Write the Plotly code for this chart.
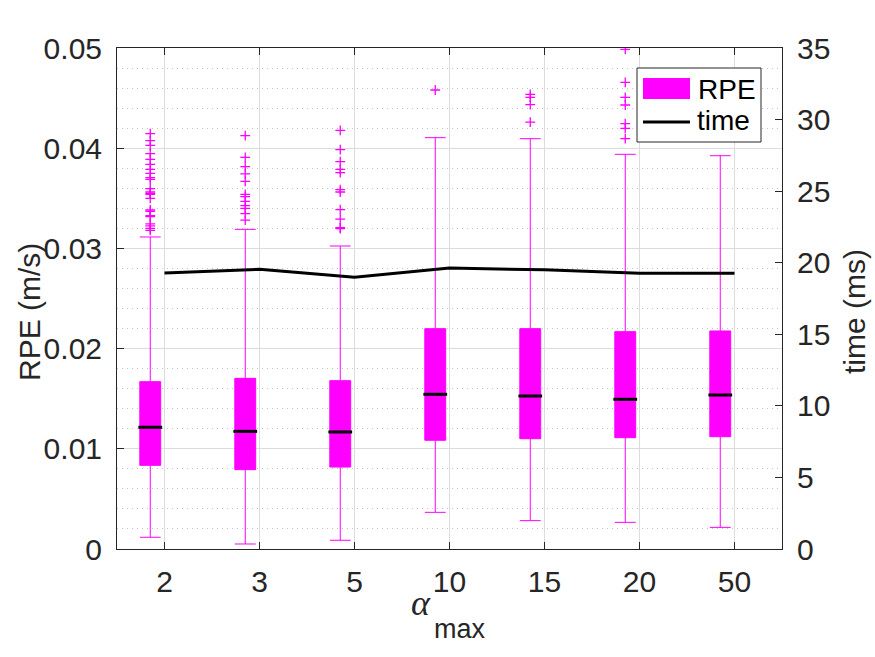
import plotly.graph_objects as go

# ---------------- data ----------------
categories = ["2", "3", "5", "10", "15", "20", "50"]
positions = [1, 2, 3, 4, 5, 6, 7]
box_offset = -0.15
box_width = 0.22

q1 = [0.00835, 0.00792, 0.00818, 0.01085, 0.01101, 0.01111, 0.01121]
median = [0.01215, 0.01174, 0.01168, 0.01544, 0.01527, 0.01494, 0.01537]
q3 = [0.01670, 0.01703, 0.01680, 0.02199, 0.02199, 0.02169, 0.02176]
lower_whisker = [0.00117, 0.00050, 0.00087, 0.00366, 0.00283, 0.00266, 0.00216]
upper_whisker = [0.03114, 0.03190, 0.03024, 0.04105, 0.04095, 0.03939, 0.03925]

outliers = [
    [0.04145, 0.04075, 0.04029, 0.03945, 0.03889, 0.03839, 0.03789, 0.03749,
     0.03706, 0.03689, 0.03596, 0.03563, 0.03550, 0.03540, 0.03500, 0.03383,
     0.03370, 0.03327, 0.03317, 0.03244, 0.03224, 0.03200, 0.03180],
    [0.04125, 0.03909, 0.03816, 0.03743, 0.03669, 0.03540, 0.03516, 0.03470,
     0.03426, 0.03400, 0.03347, 0.03283],
    [0.04178, 0.03985, 0.03866, 0.03789, 0.03756, 0.03586, 0.03563, 0.03386,
     0.03293, 0.03207, 0.03197],
    [0.04581],
    [0.04538, 0.04508, 0.04434, 0.04261],
    [0.04987, 0.04657, 0.04508, 0.04431, 0.04245, 0.04198, 0.04095],
    [],
]

time_ms = [19.28, 19.54, 18.98, 19.63, 19.50, 19.26, 19.26]

# ---------------- styling ----------------
MAG = "#FF00FF"
AX = "#262626"
FONT = "Liberation Sans, Arial, Helvetica, sans-serif"
FS = 30

box_x = [p + box_offset for p in positions]

fig = go.Figure()

fig.add_trace(go.Box(
    x=box_x, q1=q1, median=median, q3=q3,
    lowerfence=lower_whisker, upperfence=upper_whisker,
    width=box_width, whiskerwidth=1,
    fillcolor=MAG, line=dict(color=MAG, width=1),
    boxpoints=False, showlegend=False, name="RPE",
))

# black median lines
mx, my = [], []
half = box_width / 2 + 0.015
for bx, m in zip(box_x, median):
    mx += [bx - half, bx + half, None]
    my += [m, m, None]
fig.add_trace(go.Scatter(x=mx, y=my, mode="lines",
                         line=dict(color="black", width=3),
                         showlegend=False, hoverinfo="skip"))

# outliers
ox, oy = [], []
for bx, vals in zip(box_x, outliers):
    ox += [bx] * len(vals)
    oy += vals
fig.add_trace(go.Scatter(x=ox, y=oy, mode="markers",
                         marker=dict(symbol="cross-thin", size=7,
                                     line=dict(color=MAG, width=1.3)),
                         showlegend=False, hoverinfo="skip"))

# time line on right axis
fig.add_trace(go.Scatter(x=positions, y=time_ms, mode="lines",
                         line=dict(color="black", width=3),
                         yaxis="y2", showlegend=False, name="time"))

L, R, T, B = 117, 93, 48, 108
W, H = 875, 657
PW, PH = W - L - R, H - T - B


def px(x):
    return (x - L) / PW


def py(y):
    return (H - B - y) / PH


shapes = [
    # legend box
    dict(type="rect", xref="paper", yref="paper",
         x0=px(637), x1=px(761), y0=py(142), y1=py(68),
         fillcolor="white", line=dict(color=AX, width=1), layer="above"),
    dict(type="rect", xref="paper", yref="paper",
         x0=px(643), x1=px(690), y0=py(99), y1=py(78),
         fillcolor=MAG, line=dict(width=0), layer="above"),
    dict(type="line", xref="paper", yref="paper",
         x0=px(643), x1=px(690), y0=py(122), y1=py(122),
         line=dict(color="black", width=3), layer="above"),
]

annotations = [
    dict(text="RPE", xref="paper", yref="paper", x=px(696), y=py(89),
         xanchor="left", yanchor="middle", showarrow=False,
         font=dict(family=FONT, size=28, color="black")),
    dict(text="time", xref="paper", yref="paper", x=px(695), y=py(120),
         xanchor="left", yanchor="middle", showarrow=False,
         font=dict(family=FONT, size=28, color="black")),
    # axis titles
    dict(text="RPE (m/s)", xref="paper", yref="paper", x=px(30), y=py(312),
         xanchor="center", yanchor="middle", textangle=-90, showarrow=False,
         font=dict(family=FONT, size=30, color=AX)),
    dict(text="time (ms)", xref="paper", yref="paper", x=px(855), y=py(312),
         xanchor="center", yanchor="middle", textangle=-90, showarrow=False,
         font=dict(family=FONT, size=30, color=AX)),
    # x-axis title: alpha_max
    dict(text="<i>α</i>", xref="paper", yref="paper", x=px(421), y=py(603),
         xanchor="center", yanchor="middle", showarrow=False,
         font=dict(family="Liberation Serif, Times New Roman, serif", size=36, color=AX)),
    dict(text="max", xref="paper", yref="paper", x=px(432), y=py(629),
         xanchor="left", yanchor="middle", showarrow=False,
         font=dict(family=FONT, size=27, color=AX)),
]

fig.update_layout(
    width=W, height=H,
    margin=dict(l=L, r=R, t=T, b=B, autoexpand=False),
    paper_bgcolor="white", plot_bgcolor="white",
    font=dict(family=FONT, size=FS, color=AX),
    shapes=shapes, annotations=annotations,
    showlegend=False,
    xaxis=dict(
        range=[0.5, 7.5], tickmode="array", tickvals=positions, ticktext=categories,
        showgrid=True, gridcolor="#dcdcdc", gridwidth=1, zeroline=False,
        showline=True, linecolor=AX, linewidth=1, mirror="ticks",
        ticks="inside", ticklen=7, tickcolor=AX, tickwidth=1,
        tickfont=dict(family=FONT, size=FS, color=AX),
        ticklabelstandoff=6, automargin=False,
    ),
    yaxis=dict(
        range=[0, 0.05], tickmode="array",
        tickvals=[0, 0.01, 0.02, 0.03, 0.04, 0.05],
        ticktext=["0", "0.01", "0.02", "0.03", "0.04", "0.05"],
        showgrid=True, gridcolor="#dcdcdc", gridwidth=1, zeroline=False,
        minor=dict(tickmode="linear", tick0=0, dtick=0.002, showgrid=True,
                   gridcolor="#c4c4c4", griddash="1px,4px", gridwidth=1, ticks=""),
        showline=True, linecolor=AX, linewidth=1,
        ticks="inside", ticklen=7, tickcolor=AX, tickwidth=1,
        tickfont=dict(family=FONT, size=FS, color=AX),
        ticklabelstandoff=8, automargin=False,
    ),
    yaxis2=dict(
        range=[0, 35], overlaying="y", side="right", tickmode="linear",
        tick0=0, dtick=5, showgrid=False, zeroline=False,
        showline=True, linecolor=AX, linewidth=1,
        ticks="inside", ticklen=7, tickcolor=AX, tickwidth=1,
        tickfont=dict(family=FONT, size=FS, color=AX),
        ticklabelstandoff=8, automargin=False,
    ),
)

fig.write_html("out.html")
